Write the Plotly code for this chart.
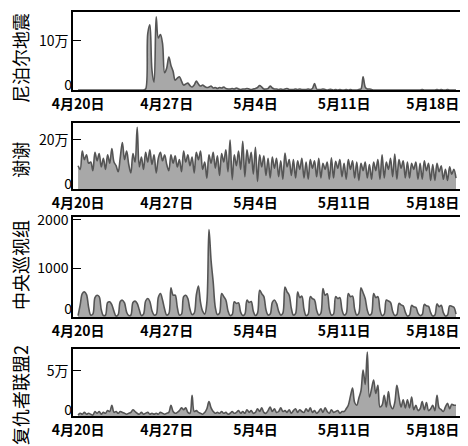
import plotly.graph_objects as go
import pandas as pd

# time axis: 4-hour steps from 2015-04-20 00:00 (30 days x 6 points)
times = pd.date_range("2015-04-20 00:00", periods=180, freq="4h")

tick_dates = ["2015-04-20", "2015-04-27", "2015-05-04", "2015-05-11", "2015-05-18"]
tick_labels = ["4月20日", "4月27日", "5月4日", "5月11日", "5月18日"]

titles = ["尼泊尔地震", "谢谢", "中央巡视组", "复仇者联盟2"]

# 尼泊尔地震 (unit: 万)
nepal = [
    0, 0, 0, 0, 0, 0,
    0, 0, 0, 0, 0, 0,
    0, 0, 0, 0, 0, 0,
    0, 0, 0, 0, 0, 0,
    0, 0, 0, 0, 0, 0,
    0, 0, 0.2, 11.5, 13.3, 4.0,
    1.6, 14.9, 10.6, 11.3, 9.5, 3.5,
    4.5, 6.7, 5.0, 3.8, 2.0, 2.4,
    2.7, 1.8, 1.0, 1.2, 1.4, 0.9,
    0.6, 1.0, 1.8, 1.2, 0.8, 1.0,
    0.7, 0.5, 0.6, 0.8, 0.4, 0.5,
    0.3, 0.5, 0.4, 0.6, 0.3, 0.2,
    0.2, 0.3, 0.2, 0.4, 0.2, 0.1,
    0.2, 0.2, 0.3, 0.2, 0.1, 0.2,
    0.3, 0.5, 0.9, 0.6, 0.2, 0.2,
    0.3, 0.8, 0.4, 0.2, 0.2, 0.1,
    0.2, 0.1, 0.2, 0.3, 0.1, 0.1,
    0.1, 0.2, 0.1, 0.2, 0.1, 0.1,
    0.1, 0.2, 0.1, 0.3, 1.3, 0.2,
    0.1, 0.1, 0.2, 0.1, 0.0, 0.1,
    0.1, 0.0, 0.1, 0.0, 0.1, 0.0,
    0.0, 0.1, 0.0, 0.1, 0.0, 0.0,
    0.0, 0.1, 0.2, 2.7, 0.6, 0.2,
    0.2, 0.1, 0.0, 0.0, 0.0, 0.0,
    0.0, 0.0, 0.0, 0.0, 0.0, 0.0,
    0.0, 0.0, 0.0, 0.0, 0.0, 0.0,
    0.0, 0.0, 0.0, 0.0, 0.0, 0.0,
    0.0, 0.1, 0.0, 0.0, 0.0, 0.0,
    0.0, 0.0, 0.1, 0.0, 0.1, 0.0,
    0.0, 0.1, 0.0, 0.0, 0.0, 0.0,
]

# 谢谢 (unit: 万)
thanks = [
    9.5, 8, 15.5, 12, 14, 10.5,
    11, 7.5, 15, 11.5, 14.5, 9,
    12.5, 8, 14, 10.5, 16.5, 11,
    9.5, 7, 13, 19, 12, 15.5,
    10, 6.5, 14.5, 11, 25.2, 9,
    13, 8, 15, 11, 16, 10,
    14, 6.5, 12.5, 15, 11.5, 14,
    10, 7.5, 14, 10.5, 13.5, 9,
    12, 7, 15.5, 11, 14, 9.5,
    13, 6.5, 15, 12, 15.5, 8,
    11, 4.4, 14, 10.5, 15, 8.5,
    13.5, 5.5, 14.5, 11, 16, 7,
    20, 3.8, 14, 9.5, 15.5, 8,
    19.5, 5, 16, 10.5, 15, 6,
    17, 3.1, 14, 9, 13.5, 5.5,
    12.5, 4.5, 13, 8.5, 12.5, 5,
    11.5, 4, 14.7, 9, 12, 5.5,
    12, 4.5, 11.5, 8, 12.5, 4.5,
    11, 4, 12, 8.5, 11.5, 5,
    12.5, 4.5, 10.5, 8, 11, 4,
    12.7, 4.5, 11.3, 8.5, 12, 5,
    10.5, 4, 12, 8, 11.5, 4.5,
    11, 3.5, 10.5, 7.5, 11, 4.5,
    10, 4, 11, 7.5, 12, 4,
    14, 4.5, 11, 8, 12.5, 5,
    14.3, 4, 12, 8.5, 11.5, 4.5,
    11, 4.5, 10.5, 8, 11, 4,
    10.5, 4, 11.5, 7.5, 10.5, 3.5,
    10, 3.5, 10.5, 7, 9.5, 4,
    8, 3.5, 9, 6, 8, 4.4,
]

# 中央巡视组 (raw counts)
inspect = [
    30, 250, 480, 517, 460, 200,
    40, 60, 400, 449, 420, 150,
    30, 40, 300, 313, 250, 120,
    20, 50, 320, 347, 290, 100,
    30, 40, 300, 327, 280, 150,
    30, 60, 330, 380, 320, 130,
    40, 50, 400, 483, 350, 160,
    40, 70, 600, 450, 449, 200,
    40, 60, 420, 449, 380, 160,
    50, 80, 449, 640, 300, 120,
    60, 300, 1800, 1163, 721, 200,
    50, 80, 483, 420, 350, 130,
    30, 50, 313, 280, 290, 100,
    30, 60, 347, 300, 320, 120,
    30, 80, 551, 480, 420, 150,
    40, 60, 300, 350, 280, 120,
    40, 80, 619, 520, 450, 180,
    40, 70, 517, 400, 430, 160,
    30, 60, 420, 380, 350, 140,
    40, 80, 585, 450, 480, 170,
    40, 60, 420, 380, 400, 150,
    40, 70, 483, 420, 430, 160,
    40, 80, 600, 500, 380, 140,
    40, 70, 483, 400, 420, 150,
    30, 60, 350, 330, 300, 120,
    30, 50, 280, 250, 230, 100,
    20, 40, 240, 210, 200, 80,
    30, 50, 260, 230, 220, 90,
    20, 40, 270, 210, 240, 90,
    20, 40, 230, 220, 200, 60,
]

# 复仇者联盟2 (unit: 万)
avengers = [
    0.1, 0.3, 0.2, 0.4, 0.2, 0.3,
    0.2, 0.1, 0.5, 0.3, 0.5, 0.2,
    0.4, 0.3, 0.6, 0.5, 1.2, 0.4,
    0.5, 0.3, 0.5, 0.4, 0.3, 0.2,
    0.3, 0.4, 0.7, 0.5, 0.3, 0.2,
    0.4, 0.2, 0.3, 0.4, 0.2, 0.3,
    0.2, 0.3, 0.2, 0.4, 0.3, 0.2,
    0.3, 0.4, 1.2, 0.5, 0.3, 0.4,
    0.6, 0.9, 0.7, 0.9, 0.4, 0.3,
    2.3, 0.5, 0.6, 0.4, 0.3, 0.2,
    0.4, 0.8, 1.6, 0.9, 0.5, 0.3,
    0.4, 0.3, 0.5, 0.3, 0.4, 0.2,
    0.3, 0.5, 0.3, 0.4, 0.6, 0.3,
    0.5, 0.3, 0.7, 0.4, 0.6, 0.3,
    0.4, 0.8, 0.5, 0.9, 0.4, 0.3,
    0.6, 1.0, 0.5, 0.8, 0.4, 0.5,
    0.9, 0.5, 0.6, 0.4, 0.7, 0.3,
    0.6, 0.8, 0.4, 0.7, 0.5, 0.4,
    0.8, 0.5, 0.9, 0.4, 0.6, 0.3,
    0.5, 0.8, 0.4, 0.9, 0.5, 0.3,
    0.7, 0.4, 0.5, 0.6, 0.3, 0.5,
    0.5, 0.8, 1.2, 2.2, 3.1, 1.5,
    1.2, 2.0, 2.8, 5.1, 3.5, 7.1,
    2.1, 3.0, 4.0, 2.5, 3.4, 1.0,
    1.2, 2.3, 1.0, 2.7, 1.2, 0.8,
    1.5, 3.4, 2.1, 1.0, 1.8, 0.9,
    1.8, 0.9, 2.1, 0.7, 1.2, 0.6,
    0.8, 1.6, 0.7, 1.5, 0.6, 0.8,
    1.2, 0.6, 2.3, 0.9, 0.7, 0.5,
    1.0, 1.4, 0.8, 1.3, 1.2, 1.2,
]

series = [nepal, thanks, inspect, avengers]
y_ranges = [[0, 15.9], [0, 26.9], [0, 2060], [0, 7.44]]
y_tickvals = [[10], [20], [1000, 2000], [5]]
y_ticktext = [["10万"], ["20万"], ["1000", "2000"], ["5万"]]
zero_shift = [-5, -5, -8, -6]
domains = [[0.807, 1.0], [0.562, 0.725], [0.245, 0.4926], [0.0, 0.166]]
title_y = [0.886, 0.634, 0.374, 0.052]

FONT = "Noto Sans CJK SC"
fig = go.Figure()
layout = dict(
    width=468, height=446,
    margin=dict(l=65, r=16, t=4, b=38, autoexpand=False),
    paper_bgcolor="white", plot_bgcolor="white",
    showlegend=False,
    font=dict(family=FONT, color="black"),
)
annotations = []
for i, (vals, title) in enumerate(zip(series, titles)):
    n = i + 1
    xa = "x" if n == 1 else f"x{n}"
    ya = "y" if n == 1 else f"y{n}"
    yo = f"y{n + 4}"
    fig.add_trace(go.Scatter(
        x=times, y=vals, xaxis=xa, yaxis=ya,
        mode="lines", line=dict(color="#555555", width=1.6, shape="spline", smoothing=1.0),
        fill="tozeroy", fillcolor="#a8a8a8", hoverinfo="skip",
    ))
    # same series on the overlay axis (invisible), so that axis gets drawn
    fig.add_trace(go.Scatter(
        x=times, y=vals, xaxis=xa, yaxis=yo,
        mode="lines", line=dict(color="rgba(0,0,0,0)", width=0),
        opacity=0, hoverinfo="skip",
    ))
    layout["xaxis" if n == 1 else f"xaxis{n}"] = dict(
        domain=[0, 1], anchor=ya, automargin=False,
        range=["2015-04-19 14:24", "2015-05-20 03:36"],
        tickvals=tick_dates, ticktext=tick_labels,
        tickfont=dict(family=FONT, size=14, color="black", weight="bold"),
        showgrid=False, zeroline=False, ticks="",
        showline=True, linecolor="black", linewidth=1.5, mirror=True,
    )
    layout["yaxis" if n == 1 else f"yaxis{n}"] = dict(
        domain=domains[i], anchor=xa, range=y_ranges[i], automargin=False,
        tickvals=y_tickvals[i], ticktext=y_ticktext[i],
        tickfont=dict(family=FONT, size=14, color="black"),
        ticks="inside", ticklen=8, tickcolor="black", tickwidth=1,
        showgrid=False, zeroline=False,
        showline=True, linecolor="black", linewidth=1.5, mirror=True,
    )
    # overlay axis carrying only the "0" label, nudged up as in the original
    layout[f"yaxis{n + 4}"] = dict(
        overlaying=ya, anchor=xa, side="left", range=y_ranges[i], automargin=False,
        tickvals=[0], ticktext=["0"], ticklabelshift=zero_shift[i],
        tickfont=dict(family=FONT, size=14, color="black"),
        ticks="", showgrid=False, zeroline=False, showline=False,
    )
    annotations.append(dict(
        text=title, textangle=-90, showarrow=False,
        xref="paper", yref="paper",
        x=(20 - 73) / 387, xanchor="center",
        y=title_y[i], yanchor="middle",
        font=dict(family=FONT, size=18, color="black"),
    ))
layout["annotations"] = annotations
fig.update_layout(**layout)
fig.write_html("out.html")
